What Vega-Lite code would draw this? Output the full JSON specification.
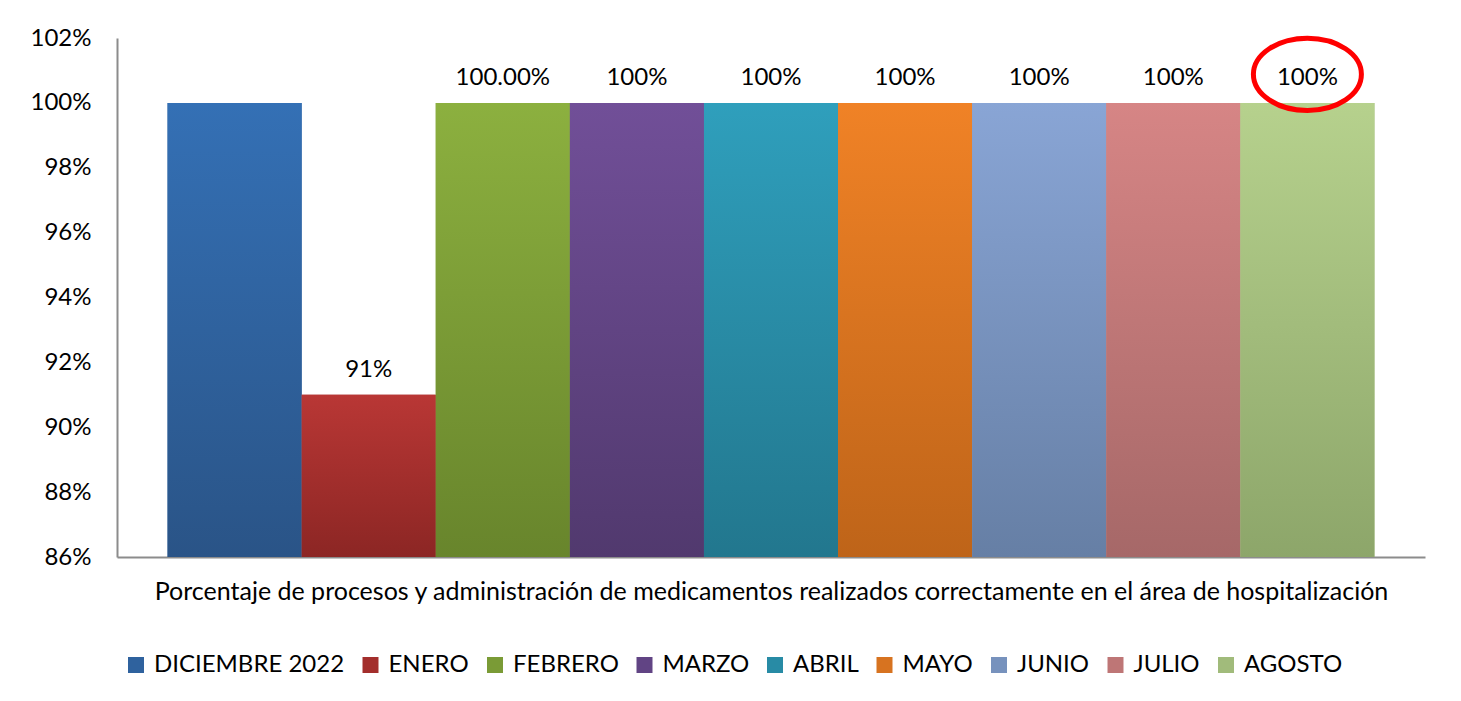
{
  "$schema": "https://vega.github.io/schema/vega-lite/v6.json",
  "width": 1308,
  "height": 519,
  "autosize": {"type": "none"},
  "padding": {"left": 117, "top": 38, "right": 36, "bottom": 144},
  "background": "white",
  "config": {"view": {"stroke": null}, "font": "Lato"},
  "data": {
    "values": [
      {"mes": "DICIEMBRE 2022", "valor": 1.0, "etiqueta": ""},
      {"mes": "ENERO", "valor": 0.91, "etiqueta": "91%"},
      {"mes": "FEBRERO", "valor": 1.0, "etiqueta": "100.00%"},
      {"mes": "MARZO", "valor": 1.0, "etiqueta": "100%"},
      {"mes": "ABRIL", "valor": 1.0, "etiqueta": "100%"},
      {"mes": "MAYO", "valor": 1.0, "etiqueta": "100%"},
      {"mes": "JUNIO", "valor": 1.0, "etiqueta": "100%"},
      {"mes": "JULIO", "valor": 1.0, "etiqueta": "100%"},
      {"mes": "AGOSTO", "valor": 1.0, "etiqueta": "100%"}
    ]
  },
  "encoding": {
    "x": {
      "field": "mes",
      "type": "nominal",
      "sort": null,
      "scale": {"paddingInner": 0, "paddingOuter": 0.377},
      "axis": {
        "title": "Porcentaje de procesos y administración de medicamentos realizados correctamente en el área de hospitalización",
        "labels": false,
        "ticks": false,
        "domainColor": "#8c8c8c",
        "domainWidth": 2,
        "titleFontSize": 25,
        "titleFontWeight": "normal",
        "titleFont": "Lato",
        "titleColor": "black",
        "titlePadding": 22
      }
    },
    "y": {
      "field": "valor",
      "type": "quantitative",
      "scale": {"domain": [0.86, 1.02], "zero": false, "nice": false},
      "axis": {
        "title": null,
        "format": ".0%",
        "values": [0.86, 0.88, 0.9, 0.92, 0.94, 0.96, 0.98, 1.0, 1.02],
        "ticks": false,
        "grid": false,
        "labelPadding": 26,
        "labelFontSize": 24,
        "labelFont": "Lato",
        "labelColor": "black",
        "domainColor": "#8c8c8c",
        "domainWidth": 2
      }
    }
  },
  "layer": [
    {
      "mark": {"type": "bar"},
      "encoding": {
        "y2": {"datum": 0.86},
        "fill": {
          "field": "mes",
          "type": "nominal",
          "sort": null,
          "scale": {
            "domain": ["DICIEMBRE 2022", "ENERO", "FEBRERO", "MARZO", "ABRIL", "MAYO", "JUNIO", "JULIO", "AGOSTO"],
            "range": ["#2F629E", "#A32E2C", "#7A9B36", "#614484", "#288BA5", "#D77320", "#7792BD", "#BE7676", "#A1BB7B"]
          },
          "legend": {
            "title": null,
            "orient": "none",
            "legendX": 7,
            "legendY": 615,
            "direction": "horizontal",
            "columns": 9,
            "symbolType": "square",
            "symbolSize": 256,
            "symbolStrokeWidth": 0,
            "symbolOpacity": 1,
            "labelFontSize": 24,
            "labelFont": "Lato",
            "labelColor": "black",
            "labelOffset": 6,
            "columnPadding": 13.5,
            "labelLimit": 400
          }
        }
      }
    },
    {
      "mark": {"type": "bar"},
      "encoding": {
        "y2": {"datum": 0.86},
        "fill": {
          "condition": [
            {"test": "datum.mes === 'DICIEMBRE 2022'", "value": {"gradient": "linear", "x1": 0, "y1": 0, "x2": 0, "y2": 1, "stops": [{"offset": 0, "color": "#3470B5"}, {"offset": 1, "color": "#2A5487"}]}},
            {"test": "datum.mes === 'ENERO'", "value": {"gradient": "linear", "x1": 0, "y1": 0, "x2": 0, "y2": 1, "stops": [{"offset": 0, "color": "#B93735"}, {"offset": 1, "color": "#8C2624"}]}},
            {"test": "datum.mes === 'FEBRERO'", "value": {"gradient": "linear", "x1": 0, "y1": 0, "x2": 0, "y2": 1, "stops": [{"offset": 0, "color": "#8CB03F"}, {"offset": 1, "color": "#68852C"}]}},
            {"test": "datum.mes === 'MARZO'", "value": {"gradient": "linear", "x1": 0, "y1": 0, "x2": 0, "y2": 1, "stops": [{"offset": 0, "color": "#714F98"}, {"offset": 1, "color": "#51396E"}]}},
            {"test": "datum.mes === 'ABRIL'", "value": {"gradient": "linear", "x1": 0, "y1": 0, "x2": 0, "y2": 1, "stops": [{"offset": 0, "color": "#2F9FBC"}, {"offset": 1, "color": "#22778E"}]}},
            {"test": "datum.mes === 'MAYO'", "value": {"gradient": "linear", "x1": 0, "y1": 0, "x2": 0, "y2": 1, "stops": [{"offset": 0, "color": "#F08226"}, {"offset": 1, "color": "#BE6419"}]}},
            {"test": "datum.mes === 'JUNIO'", "value": {"gradient": "linear", "x1": 0, "y1": 0, "x2": 0, "y2": 1, "stops": [{"offset": 0, "color": "#89A5D5"}, {"offset": 1, "color": "#667FA5"}]}},
            {"test": "datum.mes === 'JULIO'", "value": {"gradient": "linear", "x1": 0, "y1": 0, "x2": 0, "y2": 1, "stops": [{"offset": 0, "color": "#D68585"}, {"offset": 1, "color": "#A66868"}]}}
          ],
          "value": {"gradient": "linear", "x1": 0, "y1": 0, "x2": 0, "y2": 1, "stops": [{"offset": 0, "color": "#B6D18D"}, {"offset": 1, "color": "#8DA66A"}]}
        }
      }
    },
    {
      "mark": {"type": "text", "dy": -18, "baseline": "alphabetic", "fontSize": 24, "font": "Lato", "color": "black"},
      "encoding": {
        "text": {"field": "etiqueta"}
      }
    },
    {
      "transform": [{"filter": "datum.mes === 'AGOSTO'"}],
      "mark": {
        "type": "point",
        "shape": "M -1 0 A 1 0.67 0 1 1 1 0 A 1 0.67 0 1 1 -1 0 Z",
        "size": 11664,
        "filled": false,
        "stroke": "#ff0000",
        "strokeWidth": 5,
        "opacity": 1
      },
      "encoding": {"y": {"datum": 1.0088}}
    }
  ]
}
